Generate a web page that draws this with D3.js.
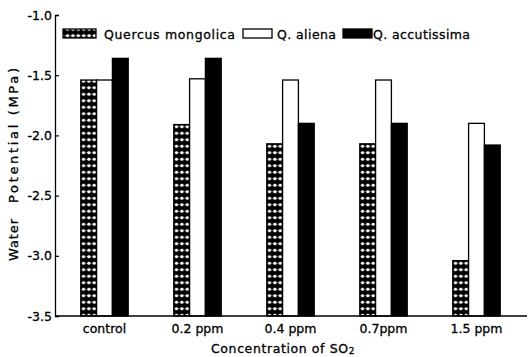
<!DOCTYPE html>
<html>
<head>
<meta charset="utf-8">
<script src="https://cdn.jsdelivr.net/npm/d3@7"></script>
<style>
  body { margin: 0; background: #fff; }
  text { font-family: "DejaVu Sans", sans-serif; fill: #000; stroke: #000; stroke-width: 0.3; }
</style>
</head>
<body>
<div id="chart"></div>
<script>
(function(){
  // Categories and series (water potential, MPa)
  const concentrations = ["control", "0.2 ppm", "0.4 ppm", "0.7ppm", "1.5 ppm"];
  const species = ["Quercus mongolica", "Q. aliena", "Q. accutissima"];
  const mongolica = [-1.54, -1.91, -2.07, -2.07, -3.04];
  const aliena = [-1.54, -1.53, -1.54, -1.54, -1.90];
  const accutissima = [-1.36, -1.36, -1.90, -1.90, -2.08];
  const yTicks = [-1.0, -1.5, -2.0, -2.5, -3.0, -3.5];

  const series = [mongolica, aliena, accutissima];
  const width = 529, height = 357;

  const svg = d3.select("#chart").append("svg")
    .attr("width", width)
    .attr("height", height);

  // pattern for Quercus mongolica
  const defs = svg.append("defs");
  const pat = defs.append("pattern")
    .attr("id", "dots")
    .attr("patternUnits", "userSpaceOnUse")
    .attr("width", 5.4).attr("height", 6.5);
  pat.append("rect").attr("width", 5.4).attr("height", 6.5).attr("fill", "#000");
  pat.append("rect").attr("x", 0.6).attr("y", 2.8).attr("width", 4.2).attr("height", 0.9).attr("fill", "#fff");
  pat.append("circle").attr("cx", 2.7).attr("cy", 3.25).attr("r", 1.6).attr("fill", "#fff");

  const x = d3.scaleBand()
    .domain(concentrations)
    .range([58, 523])
    .paddingInner(0.49)
    .paddingOuter(0.245);

  const xs = d3.scaleBand()
    .domain(d3.range(species.length))
    .range([0, x.bandwidth()]);

  const y = d3.scaleLinear()
    .domain([-1.0, -3.5])
    .range([15, 316]);

  const fills = ["url(#dots)", "#fff", "#000"];

  // bars grow from the bottom (-3.5) up to the value
  const groups = svg.selectAll(".grp")
    .data(concentrations)
    .enter().append("g")
    .attr("class", "grp")
    .attr("transform", d => `translate(${x(d)},0)`);

  groups.selectAll("rect")
    .data((d, i) => series.map((s, k) => ({ k: k, v: s[i] })))
    .enter().append("rect")
    .attr("x", d => xs(d.k))
    .attr("y", d => y(d.v))
    .attr("width", xs.bandwidth())
    .attr("height", d => y(-3.5) - y(d.v))
    .attr("fill", d => fills[d.k])
    .attr("stroke", "#000")
    .attr("stroke-width", 1.3);

  // y axis
  const yAxis = svg.append("g")
    .attr("transform", "translate(55,0)")
    .call(d3.axisLeft(y).tickValues(yTicks).tickFormat(d3.format(".1f")).tickSize(-4).tickPadding(3));
  yAxis.select(".domain").attr("stroke-width", 1.3);
  yAxis.selectAll(".tick line").attr("stroke-width", 1.2);
  yAxis.selectAll("text").attr("font-size", 12.5).attr("fill", "#000")
    .text(d => d3.format(".1f")(d).replace("−", "-"));

  // x axis (no ticks)
  const xAxis = svg.append("g")
    .attr("transform", "translate(0,316)")
    .call(d3.axisBottom(x).tickSize(0).tickPadding(8));
  xAxis.select(".domain").attr("d", "M55,0H527").attr("stroke-width", 1.3);
  xAxis.selectAll("text").attr("font-size", 12.5).attr("fill", "#000");

  // axis titles
  svg.append("text")
    .attr("x", 283).attr("y", 353)
    .attr("text-anchor", "middle")
    .attr("font-size", 12.5)
    .attr("letter-spacing", 0.6)
    .html("Concentration of SO<tspan font-size='9' dy='1'>2</tspan>");

  svg.append("text")
    .attr("transform", "translate(18,261) rotate(-90)")
    .attr("font-size", 13)
    .html("<tspan textLength='42' lengthAdjust='spacing'>Water</tspan>" +
          "<tspan x='58' textLength='135' lengthAdjust='spacing'>Potential (MPa)</tspan>");

  // legend
  const legX = [63, 243, 343];
  const legTextX = [104, 277, 373];
  const legTextW = [131, 59, 97];
  const legW = [33, 29, 29];
  const legend = svg.append("g");
  species.forEach((s, k) => {
    legend.append("rect")
      .attr("x", legX[k]).attr("y", 29)
      .attr("width", legW[k]).attr("height", 9)
      .attr("fill", fills[k])
      .attr("stroke", "#000").attr("stroke-width", 1.3);
    legend.append("text")
      .attr("x", legTextX[k]).attr("y", 38.5)
      .attr("font-size", 12.5)
      .attr("textLength", legTextW[k])
      .attr("lengthAdjust", "spacing")
      .text(s);
  });
})();
</script>
</body>
</html>
